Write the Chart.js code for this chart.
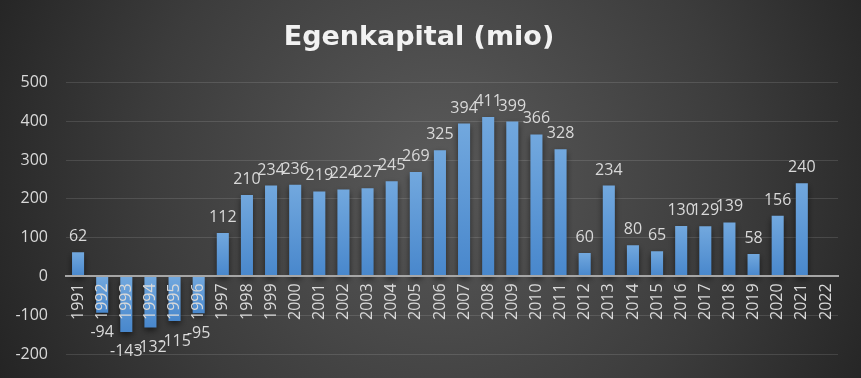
<!DOCTYPE html>
<html>
<head>
<meta charset="utf-8">
<script src="https://cdn.jsdelivr.net/npm/chart.js@4"></script>
<style>
  html, body { margin: 0; padding: 0; background: #2b2b2b; }
  #wrap { width: 861px; height: 378px; position: relative; }
</style>
</head>
<body>
<div id="wrap"><canvas id="chartEgenkapital"></canvas></div>
<script>
const years = ["1991", "1992", "1993", "1994", "1995", "1996", "1997", "1998", "1999", "2000",
  "2001", "2002", "2003", "2004", "2005", "2006", "2007", "2008", "2009", "2010",
  "2011", "2012", "2013", "2014", "2015", "2016", "2017", "2018", "2019", "2020",
  "2021", "2022"];
const egenkapital = [62, -94, -143, -132, -115, -95, 112, 210, 234, 236,
  219, 224, 227, 245, 269, 325, 394, 411, 399, 366,
  328, 60, 234, 80, 65, 130, 129, 139, 58, 156,
  240, null];
const yMin = -200;
const yMax = 500;
const yStep = 100;

document.addEventListener("DOMContentLoaded", function () {
  const textColor = "#d9d9d9";
  const fontFamily = "'Open Sans', 'Liberation Sans', sans-serif";

  // baggrund med radial gradient
  const bgPlugin = {
    id: "bg",
    beforeDraw(chart) {
      const c = chart.ctx;
      const w = chart.width, h = chart.height;
      const g = c.createRadialGradient(440, 170, 20, 440, 170, 520);
      g.addColorStop(0, "#585858");
      g.addColorStop(0.55, "#3c3c3c");
      g.addColorStop(1, "#202020");
      c.save();
      c.fillStyle = g;
      c.fillRect(0, 0, w, h);
      c.restore();
    },
  };

  // skygge under søjlerne
  const shadowPlugin = {
    id: "barShadow",
    beforeDatasetsDraw(chart) {
      const c = chart.ctx;
      c.save();
      c.shadowColor = "rgba(0,0,0,0.55)";
      c.shadowBlur = 6;
      c.shadowOffsetY = 3;
    },
    afterDatasetsDraw(chart) {
      chart.ctx.restore();
    },
  };

  // dataetiketter
  const labelPlugin = {
    id: "valueLabels",
    afterDatasetsDraw(chart) {
      const c = chart.ctx;
      const meta = chart.getDatasetMeta(0);
      c.save();
      c.font = "16px " + fontFamily;
      c.fillStyle = textColor;
      c.textAlign = "center";
      meta.data.forEach((bar, i) => {
        const v = egenkapital[i];
        if (v === null || v === undefined) return;
        if (v >= 0) {
          c.textBaseline = "alphabetic";
          c.fillText(String(v), bar.x, bar.y - 11);
        } else {
          c.textBaseline = "top";
          c.fillText(String(v), bar.x, bar.y + 12);
        }
      });
      c.restore();
    },
  };

  const ctx = document.getElementById("chartEgenkapital").getContext("2d");
  new Chart(ctx, {
    type: "bar",
    data: {
      labels: years,
      datasets: [{
        label: "Egenkapital",
        data: egenkapital,
        backgroundColor: function (context) {
          const chart = context.chart;
          const ys = chart.scales.y;
          const v = egenkapital[context.dataIndex];
          if (!chart.chartArea || !ys || v === null) return "#5b9bd5";
          const top = ys.getPixelForValue(Math.max(v, 0));
          const bot = ys.getPixelForValue(Math.min(v, 0));
          if (!isFinite(top) || !isFinite(bot) || top === bot) return "#5b9bd5";
          const g = chart.ctx.createLinearGradient(0, top, 0, bot);
          g.addColorStop(0, "#72a8de");
          g.addColorStop(1, "#4887cc");
          return g;
        },
        borderWidth: 0,
        barPercentage: 0.5,
        categoryPercentage: 1.0,
      }],
    },
    options: {
      responsive: true,
      maintainAspectRatio: false,
      animation: false,
      layout: { padding: { left: 0, right: 23, top: 0, bottom: 24 } },
      plugins: {
        legend: { display: false },
        tooltip: { enabled: false },
        title: {
          display: true,
          text: "Egenkapital (mio)",
          color: "#f2f2f2",
          font: { family: "'DejaVu Sans', sans-serif", size: 27, weight: "bold" },
          padding: { top: 22, bottom: 28 },
        },
      },
      scales: {
        x: {
          position: { y: 0 },
          afterFit(scale) { scale.height = 0; },
          grid: { display: false, drawTicks: false },
          border: { display: true, color: "#a6a6a6", width: 2, z: 1 },
          ticks: {
            z: 2,
            color: textColor,
            font: { family: fontFamily, size: 16 },
            minRotation: 90,
            maxRotation: 90,
            autoSkip: false,
            padding: 7,
          },
        },
        y: {
          min: yMin,
          max: yMax,
          afterFit(scale) { scale.width = 66; },
          grid: {
            color: (c) => (c.tick && c.tick.value === 0 ? "rgba(0,0,0,0)" : "rgba(255,255,255,0.12)"),
            drawTicks: true,
            tickLength: 18,
            tickColor: "rgba(0,0,0,0)",
            lineWidth: 1,
          },
          border: { display: false },
          ticks: {
            stepSize: yStep,
            color: textColor,
            font: { family: fontFamily, size: 16 },
            padding: 0,
          },
        },
      },
    },
    plugins: [bgPlugin, shadowPlugin, labelPlugin],
  });
});
</script>
</body>
</html>
